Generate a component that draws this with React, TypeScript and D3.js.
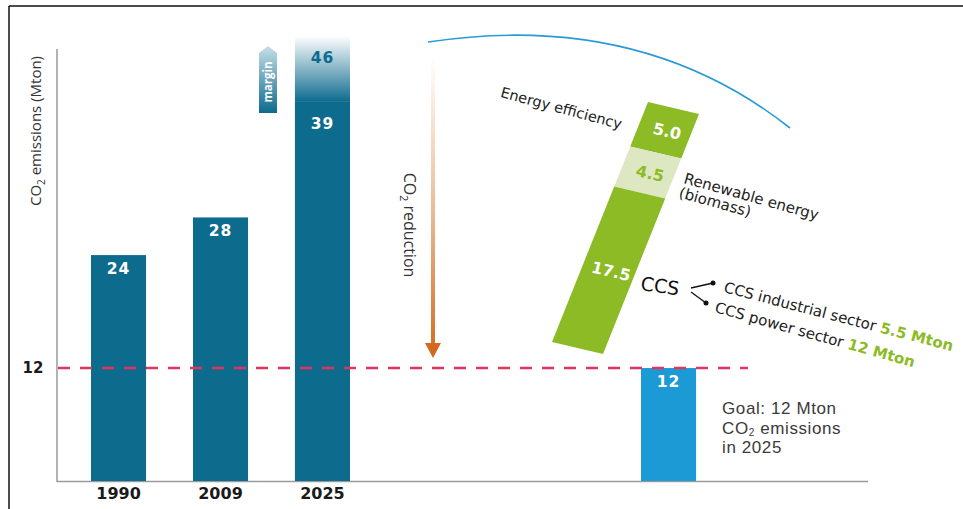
import React from 'react';
import * as d3 from 'd3';

const years = ['1990', '2009', '2025'];
const emissions = [24, 28, 39];
const margin2025 = 46;
const goalValue = 12;
const goalLines = ['Goal: 12 Mton', 'CO₂ emissions', 'in 2025'];
const reductionLabels = ['Energy efficiency', 'Renewable energy', 'CCS'];
const reductionValues = [5.0, 4.5, 17.5];
const ccsLabels = ['CCS industrial sector', 'CCS power sector'];
const ccsValues = ['5.5 Mton', '12 Mton'];

const W = 963;
const H = 509;
const TEAL = '#0d6b8e';
const BLUE = '#1c9ad6';
const GREEN = '#8cbb26';
const LIGHTGREEN = '#dde8c2';
const RED = '#e0355a';
const FONT = '"Open Sans", "Noto Sans", sans-serif';
const WIDE = '"DejaVu Sans", Verdana, sans-serif';
const GOALFONT = '"Liberation Sans", Arial, sans-serif';

export default function App() {
  const y = d3.scaleLinear().domain([0, margin2025]).range([481, 48]);
  const x = d3.scaleBand<string>().domain(years).range([91, 350]).paddingInner(0.46).paddingOuter(0);
  const bw = x.bandwidth();
  const goalX = 641;

  // tilted reduction bar geometry
  const TL: [number, number] = [648, 102];
  const TR: [number, number] = [699, 114];
  const BL: [number, number] = [552, 342];
  const total = d3.sum(reductionValues);
  const t = d3.scaleLinear().domain([0, total]).range([0, 1]);
  const along = (v: number, side: number): [number, number] => {
    const k = t(v);
    const bx = TL[0] + k * (BL[0] - TL[0]);
    const by = TL[1] + k * (BL[1] - TL[1]);
    return [bx + side * (TR[0] - TL[0]), by + side * (TR[1] - TL[1])];
  };
  const cum = [0, ...d3.cumsum(reductionValues)];
  const segColors = [GREEN, LIGHTGREEN, GREEN];
  const angle = (Math.atan2(TR[1] - TL[1], TR[0] - TL[0]) * 180) / Math.PI;

  const arcPath = 'M428,42 Q640,10 790,128';

  return (
    <svg width={W} height={H} style={{ position: 'absolute', left: 0, top: 0, background: '#fff' }} fontFamily={FONT}>
      <defs>
        <linearGradient id="marginGrad" gradientUnits="userSpaceOnUse" x1="0" x2="0" y1={y(margin2025) - 12} y2={y(emissions[2]) - 12}>
          <stop offset="0" stopColor="#ffffff" />
          <stop offset="1" stopColor={TEAL} />
        </linearGradient>
        <linearGradient id="arrowGrad" gradientUnits="userSpaceOnUse" x1="0" x2="0" y1="47" y2="113">
          <stop offset="0" stopColor="#c4dde5" />
          <stop offset="1" stopColor={TEAL} />
        </linearGradient>
        <linearGradient id="redGrad" gradientUnits="userSpaceOnUse" x1="0" x2="0" y1="57" y2="358">
          <stop offset="0" stopColor="#ffffff" />
          <stop offset="0.5" stopColor="#ebbd99" />
          <stop offset="1" stopColor="#d2691e" />
        </linearGradient>
      </defs>

      {/* frame */}
      <line x1={9} x2={9} y1={6} y2={H} stroke="#111" strokeWidth={1.5} />
      <line x1={9} x2={W} y1={6} y2={6} stroke="#111" strokeWidth={1.5} />

      {/* axes */}
      <line x1={57} x2={57} y1={49} y2={482} stroke="#9a9a9a" strokeWidth={1.5} />
      <line x1={57} x2={868} y1={481.5} y2={481.5} stroke="#9a9a9a" strokeWidth={1.5} />

      <text transform={`translate(41,131) rotate(-90)`} textAnchor="middle" fontSize={15} fill="#333">
        CO<tspan fontSize={10} dy={4}>2</tspan><tspan dy={-4}> emissions (Mton)</tspan>
      </text>

      {/* bars */}
      {years.map((yr, i) => {
        const bx = x(yr)!;
        const cx = bx + bw / 2;
        const top = i === 2 ? y(emissions[i]) - 12 : y(emissions[i]);
        return (
          <g key={yr}>
            {i === 2 && (
              <rect x={bx} y={y(margin2025) - 12} width={bw} height={top - (y(margin2025) - 12)} fill="url(#marginGrad)" />
            )}
            <rect x={bx} y={top} width={bw} height={481 - top} fill={TEAL} />
            <text x={cx} y={y(emissions[i]) + (i === 2 ? 15 : 19)} textAnchor="middle" fontFamily={WIDE} fontSize={15.5} fontWeight="bold" letterSpacing={1} fill="#fff">{emissions[i]}</text>
            <text x={cx} y={499} textAnchor="middle" fontFamily={WIDE} fontSize={16} fontWeight="bold" fill="#1a1a1a">{yr}</text>
            {i === 2 && (
              <text x={cx} y={y(margin2025) + 15} textAnchor="middle" fontFamily={WIDE} fontSize={15.5} fontWeight="bold" letterSpacing={1} fill={TEAL}>{margin2025}</text>
            )}
          </g>
        );
      })}

      {/* margin arrow */}
      <path d="M259,53 L268,46 L277,53 L277,113 L259,113 Z" fill="url(#arrowGrad)" />
      <text transform="translate(272,82) rotate(-90)" textAnchor="middle" fontSize={11.5} fontWeight="bold" fill="#fff">margin</text>

      {/* goal bar */}
      <rect x={goalX} y={y(goalValue)} width={bw} height={481 - y(goalValue)} fill={BLUE} />
      <text x={goalX + bw / 2} y={y(goalValue) + 19} textAnchor="middle" fontFamily={WIDE} fontSize={15.5} fontWeight="bold" letterSpacing={1} fill="#fff">{goalValue}</text>

      {/* goal dashed line */}
      <line x1={58} x2={748} y1={y(goalValue)} y2={y(goalValue)} stroke={RED} strokeWidth={2.5} strokeDasharray="12,10" />
      <text x={33} y={y(goalValue) + 5} textAnchor="middle" fontFamily={WIDE} fontSize={15} fontWeight="bold" fill="#1a1a1a">{goalValue}</text>

      {/* goal text */}
      <text x={722} y={414} fontFamily={GOALFONT} fontSize={17} fill="#3a3a3a" letterSpacing={0.6}>{goalLines[0]}</text>
      <text x={722} y={433.5} fontFamily={GOALFONT} fontSize={17} fill="#3a3a3a" letterSpacing={0.6}>
        CO<tspan fontSize={10} dy={2}>2</tspan><tspan dy={-2}> emissions</tspan>
      </text>
      <text x={722} y={453} fontFamily={GOALFONT} fontSize={17} fill="#3a3a3a" letterSpacing={0.6}>{goalLines[2]}</text>

      {/* CO2 reduction arrow */}
      <rect x={431} y={57} width={4} height={288} fill="url(#redGrad)" />
      <path d="M425,343 L441,343 L433,358 Z" fill="#d2691e" />
      <text transform="translate(404,225) rotate(90)" textAnchor="middle" fontSize={16} fill="#333">
        CO<tspan fontSize={10.5} dy={4}>2</tspan><tspan dy={-4}> reduction</tspan>
      </text>

      {/* blue arc */}
      <path d={arcPath} fill="none" stroke="#2a9ad6" strokeWidth={1.6} />

      {/* tilted reduction bar */}
      {reductionValues.map((v, i) => {
        const a = along(cum[i], 0);
        const b = along(cum[i], 1);
        const c = along(cum[i + 1], 1);
        const d = along(cum[i + 1], 0);
        return <path key={i} d={`M${a[0]},${a[1]}L${b[0]},${b[1]}L${c[0]},${c[1]}L${d[0]},${d[1]}Z`} fill={segColors[i]} />;
      })}
      {reductionValues.map((v, i) => {
        const mid = (cum[i] + cum[i + 1]) / 2;
        const p = along(mid, 0.55);
        return (
          <text key={i} transform={`translate(${p[0]},${p[1]}) rotate(${angle})`} textAnchor="middle" dy={6} fontFamily={WIDE} fontSize={16} fontWeight="bold" fill={i === 1 ? GREEN : '#fff'}>
            {v.toFixed(1)}
          </text>
        );
      })}

      <text transform="translate(560,113) rotate(15)" textAnchor="middle" fontFamily={WIDE} fontSize={14.5} fill="#222">{reductionLabels[0]}</text>
      <text transform="translate(683,183) rotate(15.5)" fontFamily={WIDE} fontSize={15} fill="#222">
        <tspan x={0} dy={0}>{reductionLabels[1]}</tspan>
        <tspan x={-1} dy={15}>(biomass)</tspan>
      </text>
      <text transform="translate(640,290) rotate(8)" fontFamily={WIDE} fontSize={19} fill="#111">{reductionLabels[2]}</text>

      {/* CCS connectors */}
      <line x1={691} y1={288} x2={713} y2={283} stroke="#111" strokeWidth={1.3} />
      <circle cx={713} cy={283} r={2.5} fill="#111" />
      <line x1={691} y1={292} x2={706} y2={303} stroke="#111" strokeWidth={1.3} />
      <circle cx={706} cy={303} r={2.5} fill="#111" />

      <text transform="translate(723,292) rotate(14.5)" fontFamily={WIDE} fontSize={15} fill="#222">
        {ccsLabels[0]} <tspan fontWeight="bold" fill={GREEN}>{ccsValues[0]}</tspan>
      </text>
      <text transform="translate(714,312) rotate(15.5)" fontFamily={WIDE} fontSize={15} fill="#222">
        {ccsLabels[1]} <tspan fontWeight="bold" fill={GREEN}>{ccsValues[1]}</tspan>
      </text>
    </svg>
  );
}
